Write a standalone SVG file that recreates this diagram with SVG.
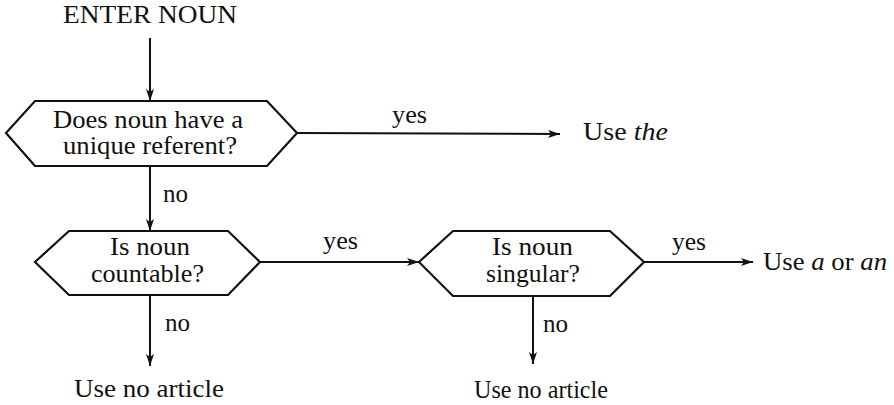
<svg xmlns="http://www.w3.org/2000/svg" width="894" height="405" viewBox="0 0 894 405" font-family="Liberation Serif, DejaVu Serif, serif">
<defs>
<marker id="ah" viewBox="0 0 12 8" refX="12" refY="4" markerWidth="12" markerHeight="8" markerUnits="userSpaceOnUse" orient="auto">
<path d="M0,0 L12,4 L0,8 L3,4 Z" fill="#111"/>
</marker>
</defs>
<style type="text/css">
text{font-family:'Liberation Serif','DejaVu Serif',serif;font-size:25px;fill:#111}
.hex{fill:#fff;stroke:#111;stroke-width:2.2;stroke-linejoin:miter}
.c{fill:none;stroke:#111;stroke-width:2;marker-end:url(#ah)}
.i{font-style:italic}
</style>
<rect width="894" height="405" fill="#fff"/>
<g id="connectors">
<line class="c" x1="150" y1="38" x2="150" y2="101"/>
<line class="c" x1="297" y1="133" x2="560" y2="134"/>
<line class="c" x1="150" y1="166" x2="150" y2="231"/>
<line class="c" x1="260" y1="262" x2="419" y2="262"/>
<line class="c" x1="644" y1="262" x2="753" y2="262"/>
<line class="c" x1="150" y1="295" x2="150" y2="366"/>
<line class="c" x1="533" y1="296" x2="533" y2="364"/>
<text x="392" y="123" textLength="35" lengthAdjust="spacingAndGlyphs">yes</text>
<text x="163" y="202" textLength="25" lengthAdjust="spacingAndGlyphs">no</text>
<text x="323" y="249" textLength="35" lengthAdjust="spacingAndGlyphs">yes</text>
<text x="672" y="250" textLength="34" lengthAdjust="spacingAndGlyphs">yes</text>
<text x="165" y="331" textLength="25" lengthAdjust="spacingAndGlyphs">no</text>
<text x="543" y="332" textLength="25" lengthAdjust="spacingAndGlyphs">no</text>
</g>
<g id="enter">
<text x="63" y="23" textLength="174" lengthAdjust="spacingAndGlyphs">ENTER NOUN</text>
</g>
<g id="q1">
<polygon class="hex" points="6,133 35,101 267,101 297,133 267,166 35,166"/>
<text x="53" y="128" textLength="190" lengthAdjust="spacingAndGlyphs">Does noun have a</text>
<text x="63" y="154" textLength="174" lengthAdjust="spacingAndGlyphs">unique referent?</text>
</g>
<g id="use-the">
<text x="583" y="140" textLength="85" lengthAdjust="spacingAndGlyphs">Use <tspan class="i">the</tspan></text>
</g>
<g id="q2">
<polygon class="hex" points="35,262 69,231 228,231 260,262 228,295 69,295"/>
<text x="110" y="255" textLength="80" lengthAdjust="spacingAndGlyphs">Is noun</text>
<text x="91" y="282" textLength="113" lengthAdjust="spacingAndGlyphs">countable?</text>
</g>
<g id="q3">
<polygon class="hex" points="419,262 453,231 610,231 644,262 610,296 453,296"/>
<text x="492" y="255" textLength="81" lengthAdjust="spacingAndGlyphs">Is noun</text>
<text x="486" y="282" textLength="94" lengthAdjust="spacingAndGlyphs">singular?</text>
</g>
<g id="use-a-an">
<text x="763" y="270" textLength="124" lengthAdjust="spacingAndGlyphs">Use <tspan class="i">a</tspan> or <tspan class="i">an</tspan></text>
</g>
<g id="no-article-1">
<text x="74" y="397" textLength="150" lengthAdjust="spacingAndGlyphs">Use no article</text>
</g>
<g id="no-article-2">
<text x="474" y="398" textLength="134" lengthAdjust="spacingAndGlyphs">Use no article</text>
</g>
</svg>
